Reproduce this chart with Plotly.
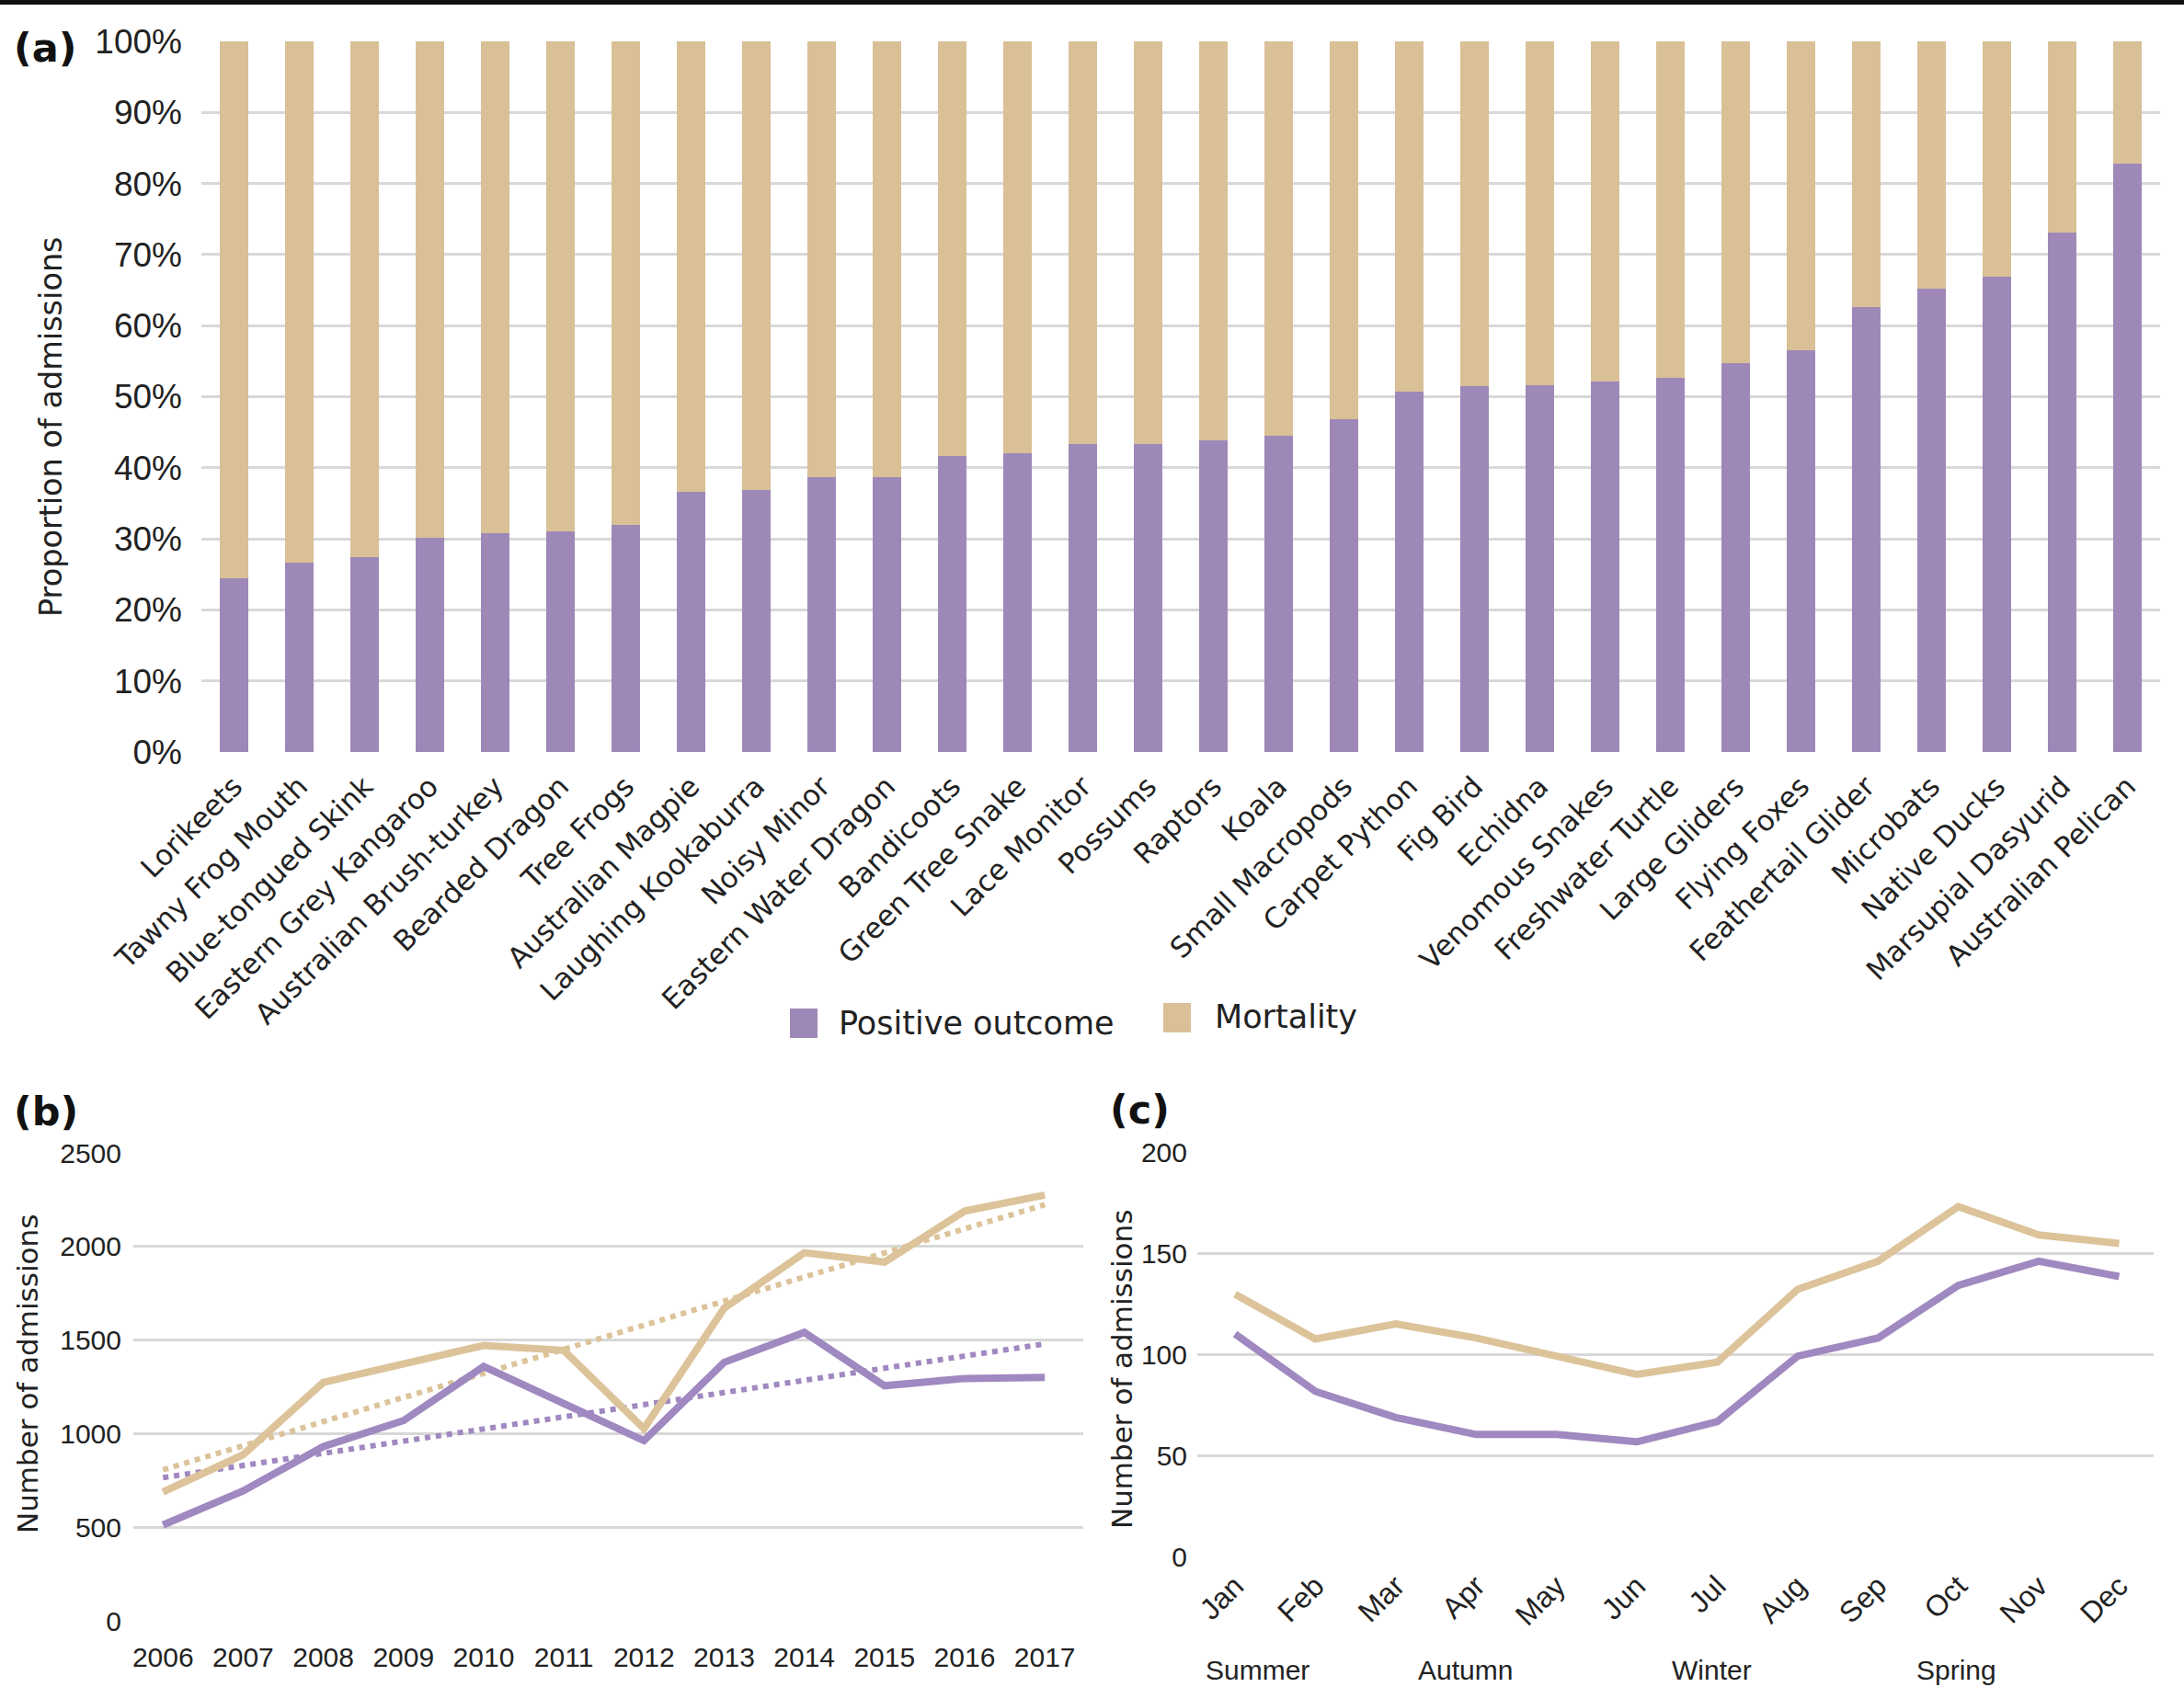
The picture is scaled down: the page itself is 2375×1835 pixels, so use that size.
import numpy as np
import plotly.graph_objects as go

W, H = 2375, 1835

# ---- (a) outcome proportion by taxon ----
species = [
    "Lorikeets", "Tawny Frog Mouth", "Blue-tongued Skink", "Eastern Grey Kangaroo",
    "Australian Brush-turkey", "Bearded Dragon", "Tree Frogs", "Australian Magpie",
    "Laughing Kookaburra", "Noisy Minor", "Eastern Water Dragon", "Bandicoots",
    "Green Tree Snake", "Lace Monitor", "Possums", "Raptors", "Koala",
    "Small Macropods", "Carpet Python", "Fig Bird", "Echidna", "Venomous Snakes",
    "Freshwater Turtle", "Large Gliders", "Flying Foxes", "Feathertail Glider",
    "Microbats", "Native Ducks", "Marsupial Dasyurid", "Australian Pelican",
]
positive_pct = [
    24.5, 26.7, 27.4, 30.2, 30.8, 31.0, 31.9, 36.6, 36.9, 38.7,
    38.7, 41.7, 42.0, 43.4, 43.4, 43.8, 44.5, 46.8, 50.7, 51.5,
    51.6, 52.1, 52.6, 54.7, 56.5, 62.6, 65.2, 66.9, 73.1, 82.8,
]
mortality_pct = [round(100 - p, 1) for p in positive_pct]
pct_ticks = [0, 10, 20, 30, 40, 50, 60, 70, 80, 90, 100]

# ---- (b) admissions per year ----
years = ["2006", "2007", "2008", "2009", "2010", "2011",
         "2012", "2013", "2014", "2015", "2016", "2017"]
positive_by_year = [514, 696, 932, 1071, 1360, 1167, 964, 1382, 1542, 1257, 1296, 1302]
mortality_by_year = [690, 889, 1275, 1371, 1472, 1446, 1028, 1671, 1967, 1917, 2189, 2275]
year_ticks = [0, 500, 1000, 1500, 2000, 2500]

# ---- (c) admissions per month ----
months = ["Jan", "Feb", "Mar", "Apr", "May", "Jun",
          "Jul", "Aug", "Sep", "Oct", "Nov", "Dec"]
positive_by_month = [110, 81.6, 68.7, 60.3, 60.3, 56.7, 66.7, 99, 108, 134, 146, 138.4]
mortality_by_month = [129.7, 107.5, 115, 108, 99, 90, 96, 132, 146, 173, 159, 154.8]
month_ticks = [0, 50, 100, 150, 200]
seasons = ["Summer", "Autumn", "Winter", "Spring"]

series_names = ["Positive outcome", "Mortality"]
PURPLE = "#9e88b8"
TAN = "#d9c097"
LINE_PURPLE = "#a088c0"
LINE_TAN = "#dcc39a"
GRID = "#d8d8d8"
TEXT = "#222222"
NUM_FONT = "Liberation Sans, Arial, sans-serif"
LBL_FONT = "DejaVu Sans, Verdana, sans-serif"


def fx(px):
    return px / W


def fy(py):
    return 1 - py / H


fig = go.Figure()

# stacked proportion bars
fig.add_trace(go.Bar(x=species, y=positive_pct, name=series_names[0],
                     marker=dict(color=PURPLE, line=dict(width=0)), width=0.45,
                     xaxis="x", yaxis="y", showlegend=False))
fig.add_trace(go.Bar(x=species, y=mortality_pct, name=series_names[1],
                     marker=dict(color=TAN, line=dict(width=0)), width=0.45,
                     xaxis="x", yaxis="y", showlegend=False))

# yearly admissions with linear trends
yi = np.arange(len(years))
for vals, col in [(mortality_by_year, LINE_TAN), (positive_by_year, LINE_PURPLE)]:
    slope, icpt = np.polyfit(yi, vals, 1)
    fig.add_trace(go.Scatter(x=yi, y=slope * yi + icpt, mode="lines",
                             line=dict(color=col, width=6, dash="dot"),
                             xaxis="x2", yaxis="y2", showlegend=False))
fig.add_trace(go.Scatter(x=yi, y=mortality_by_year, mode="lines", name=series_names[1],
                         line=dict(color=LINE_TAN, width=8),
                         xaxis="x2", yaxis="y2", showlegend=False))
fig.add_trace(go.Scatter(x=yi, y=positive_by_year, mode="lines", name=series_names[0],
                         line=dict(color=LINE_PURPLE, width=8),
                         xaxis="x2", yaxis="y2", showlegend=False))

# monthly admissions
mi = np.arange(len(months))
fig.add_trace(go.Scatter(x=mi, y=mortality_by_month, mode="lines", name=series_names[1],
                         line=dict(color=LINE_TAN, width=8),
                         xaxis="x3", yaxis="y3", showlegend=False))
fig.add_trace(go.Scatter(x=mi, y=positive_by_month, mode="lines", name=series_names[0],
                         line=dict(color=LINE_PURPLE, width=8),
                         xaxis="x3", yaxis="y3", showlegend=False))

num_axis_y = dict(showgrid=True, gridcolor=GRID, gridwidth=3, zeroline=False,
                  showline=False, ticks="", color=TEXT, fixedrange=True,
                  automargin=False)

fig.update_layout(
    template="none",
    width=W, height=H,
    margin=dict(l=0, r=0, t=0, b=0, pad=0, autoexpand=False),
    paper_bgcolor="white", plot_bgcolor="white",
    barmode="stack", bargap=0.55,
    xaxis=dict(domain=[fx(219), fx(2349)], anchor="y", type="category",
               tickangle=-45, tickfont=dict(family=LBL_FONT, size=31, color=TEXT),
               showgrid=False, showline=False, zeroline=False, ticks="",
               ticklabelstandoff=12, automargin=False),
    yaxis=dict(domain=[fy(818), fy(45)], anchor="x", range=[0, 100],
               tickvals=pct_ticks, ticktext=[f"{v}%" for v in pct_ticks],
               tickfont=dict(family=NUM_FONT, size=37, color=TEXT),
               ticklabelstandoff=20, **num_axis_y),
    xaxis2=dict(domain=[fx(145), fx(1178)], anchor="y2", range=[-0.37, 11.48],
                tickvals=list(yi), ticktext=years,
                tickfont=dict(family=NUM_FONT, size=30, color=TEXT),
                showgrid=False, showline=False, zeroline=False, ticks="",
                ticklabelstandoff=18, automargin=False),
    yaxis2=dict(domain=[fy(1763.5), fy(1254)], anchor="x2", range=[0, 2500],
                tickvals=year_ticks, tickfont=dict(family=NUM_FONT, size=30, color=TEXT),
                ticklabelstandoff=12, **num_axis_y),
    xaxis3=dict(domain=[fx(1302), fx(2342)], anchor="y3", range=[-0.47, 11.43],
                tickvals=list(mi), ticktext=months, tickangle=-45,
                tickfont=dict(family=NUM_FONT, size=32, color=TEXT),
                showgrid=False, showline=False, zeroline=False, ticks="",
                ticklabelstandoff=6, automargin=False),
    yaxis3=dict(domain=[fy(1693), fy(1253)], anchor="x3", range=[0, 200],
                tickvals=month_ticks, tickfont=dict(family=NUM_FONT, size=30, color=TEXT),
                ticklabelstandoff=10, **num_axis_y),
)

annotations = []
# panel letters
for letter, px, py in [("(a)", 13, 52), ("(b)", 13, 1209), ("(c)", 1205, 1207)]:
    annotations.append(dict(text=letter, xref="paper", yref="paper", x=fx(px), y=fy(py),
                            xanchor="left", yanchor="middle", showarrow=False,
                            font=dict(family=LBL_FONT, size=43, color="#111111", weight="bold")))
# axis titles
for title, px, py, size in [("Proportion of admissions", 56, 464, 33.5),
                            ("Number of admissions", 30, 1495, 31),
                            ("Number of admissions", 1220, 1490, 31)]:
    annotations.append(dict(text=title, xref="paper", yref="paper", x=fx(px), y=fy(py),
                            xanchor="center", yanchor="middle", textangle=-90, showarrow=False,
                            font=dict(family=LBL_FONT, size=size, color=TEXT)))
# season labels under the month axis
for name, xpos in zip(seasons, [0.28, 2.87, 5.93, 8.97]):
    annotations.append(dict(text=name, xref="x3", yref="paper", x=xpos, y=fy(1816),
                            xanchor="center", yanchor="middle", showarrow=False,
                            font=dict(family=NUM_FONT, size=30, color=TEXT)))

# legend for the proportion bars
shapes = []
for name, col, sx, sy, tx, ty in [(series_names[0], PURPLE, 859, 1113, 910, 1113),
                                  (series_names[1], TAN, 1265, 1107, 1319, 1106)]:
    shapes.append(dict(type="rect", xref="paper", yref="paper",
                       x0=fx(sx), x1=fx(sx + 30), y0=fy(sy + 16), y1=fy(sy - 16),
                       fillcolor=col, line=dict(width=0)))
    annotations.append(dict(text=name, xref="paper", yref="paper", x=fx(tx), y=fy(ty),
                            xanchor="left", yanchor="middle", showarrow=False,
                            font=dict(family=LBL_FONT, size=35, color=TEXT)))

# dark rule along the top edge
shapes.append(dict(type="rect", xref="paper", yref="paper", x0=0, x1=1,
                   y0=fy(5), y1=1, fillcolor="#111111", line=dict(width=0)))

fig.update_layout(annotations=annotations, shapes=shapes)

fig.write_html("out.html")
